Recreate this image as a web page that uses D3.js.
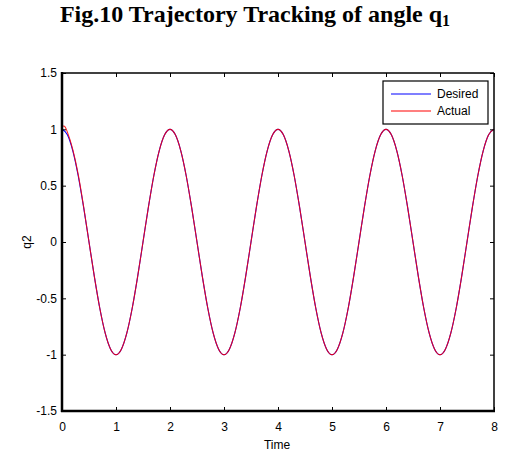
<!DOCTYPE html>
<html>
<head>
<meta charset="utf-8">
<script src="https://cdn.jsdelivr.net/npm/d3@7"></script>
<style>
  body { margin: 0; background: #fff; }
  text { font-family: Arial, "Liberation Sans", sans-serif; }
</style>
</head>
<body>
<svg id="chart" width="508" height="452"></svg>
<script>
// q2 every 0.1 s from 0 to 8
const desiredQ = [
  1, 0.951, 0.809, 0.588, 0.309, 0, -0.309, -0.588, -0.809, -0.951,
  -1, -0.951, -0.809, -0.588, -0.309, 0, 0.309, 0.588, 0.809, 0.951,
  1, 0.951, 0.809, 0.588, 0.309, 0, -0.309, -0.588, -0.809, -0.951,
  -1, -0.951, -0.809, -0.588, -0.309, 0, 0.309, 0.588, 0.809, 0.951,
  1, 0.951, 0.809, 0.588, 0.309, 0, -0.309, -0.588, -0.809, -0.951,
  -1, -0.951, -0.809, -0.588, -0.309, 0, 0.309, 0.588, 0.809, 0.951,
  1, 0.951, 0.809, 0.588, 0.309, 0, -0.309, -0.588, -0.809, -0.951,
  -1, -0.951, -0.809, -0.588, -0.309, 0, 0.309, 0.588, 0.809, 0.951,
  1
]
const desiredTime = desiredQ.map((d, i) => i / 10)

// actual response differs only at the very start
const actualHeadTime = [0, 0.03, 0.06, 0.1, 0.2, 0.3, 0.4]
const actualHeadQ = [1.02, 1.03, 1.02, 0.975, 0.82, 0.6, 0.315]

const xTicks = [0, 1, 2, 3, 4, 5, 6, 7, 8]
const yTicks = [-1.5, -1, -0.5, 0, 0.5, 1, 1.5]
const legendNames = ['Desired', 'Actual']
const colors = ['#0000ff', '#ff0000']

const margin = { left: 62, right: 14, top: 73, bottom: 41 }
const width = 508, height = 452
const svg = d3.select('#chart')

const x = d3.scaleLinear().domain([0, 8]).range([margin.left, width - margin.right])
const y = d3.scaleLinear().domain([-1.5, 1.5]).range([height - margin.bottom, margin.top])

const desired = desiredTime.map((t, i) => [t, desiredQ[i]])
const actual = actualHeadTime.map((t, i) => [t, actualHeadQ[i]])
  .concat(desired.filter(d => d[0] >= 0.5))

// title
const title = svg.append('text')
  .attr('x', 255).attr('y', 22)
  .attr('text-anchor', 'middle')
  .style('font-family', '"Liberation Serif", "Times New Roman", serif')
  .style('font-weight', 'bold')
  .style('font-size', '24px')
title.append('tspan').text('Fig.10 Trajectory Tracking of angle q')
title.append('tspan').attr('dy', 4).style('font-size', '16px').text('1')

// curves
const line = d3.line().x(d => x(d[0])).y(d => y(d[1])).curve(d3.curveMonotoneX)
svg.append('path').datum(desired)
  .attr('fill', 'none').attr('stroke', colors[0]).attr('stroke-width', 1.1)
  .attr('d', line)
svg.append('path').datum(actual)
  .attr('fill', 'none').attr('stroke', colors[1]).attr('stroke-width', 1.1)
  .attr('opacity', 0.85)
  .attr('d', line)

// axes: ticks point inward, on all four sides
const x0 = margin.left, x1 = width - margin.right
const y0 = height - margin.bottom, y1 = margin.top
const fmt = d => String(d)

svg.append('g').attr('transform', `translate(0,${y0})`)
  .call(d3.axisBottom(x).tickValues(xTicks).tickSizeInner(-4).tickSizeOuter(0).tickPadding(11).tickFormat(fmt))
svg.append('g').attr('transform', `translate(0,${y1})`)
  .call(d3.axisTop(x).tickValues(xTicks).tickSizeInner(-4).tickSizeOuter(0).tickFormat(''))
svg.append('g').attr('transform', `translate(${x0},0)`)
  .call(d3.axisLeft(y).tickValues(yTicks).tickSizeInner(-4).tickSizeOuter(0).tickPadding(5).tickFormat(fmt))
svg.append('g').attr('transform', `translate(${x1},0)`)
  .call(d3.axisRight(y).tickValues(yTicks).tickSizeInner(-4).tickSizeOuter(0).tickFormat(''))

svg.selectAll('.domain').remove()
svg.selectAll('.tick line').attr('stroke', '#000')
svg.selectAll('.tick text').style('font-size', '12px').attr('fill', '#000')
  .style('font-family', 'Arial, "Liberation Sans", sans-serif')

// box
svg.append('line').attr('x1', x0).attr('x2', x1).attr('y1', y1).attr('y2', y1)
  .attr('stroke', '#000').attr('stroke-width', 1.5)
svg.append('line').attr('x1', x1).attr('x2', x1).attr('y1', y1).attr('y2', y0)
  .attr('stroke', '#000').attr('stroke-width', 1.5)
svg.append('line').attr('x1', x0).attr('x2', x0).attr('y1', y1 - 1).attr('y2', y0 + 1)
  .attr('stroke', '#000').attr('stroke-width', 2.5)
svg.append('line').attr('x1', x0 - 1).attr('x2', x1 + 1).attr('y1', y0).attr('y2', y0)
  .attr('stroke', '#000').attr('stroke-width', 2.5)

// axis labels
svg.append('text').attr('x', 277).attr('y', 449)
  .attr('text-anchor', 'middle').style('font-size', '12px').text('Time')
svg.append('text')
  .attr('transform', `translate(31,${y(0)}) rotate(-90)`)
  .attr('text-anchor', 'middle').style('font-size', '12px').text('q2')

// legend
const lg = svg.append('g').attr('transform', 'translate(383,81)')
lg.append('rect').attr('width', 105).attr('height', 43)
  .attr('fill', '#fff').attr('stroke', '#000').attr('stroke-width', 1.2)
legendNames.forEach((name, i) => {
  lg.append('line').attr('x1', 8).attr('x2', 48)
    .attr('y1', 13 + i * 17).attr('y2', 13 + i * 17)
    .attr('stroke', colors[i]).attr('stroke-width', 1.2)
  lg.append('text').attr('x', 54).attr('y', 17 + i * 17)
    .style('font-size', '12px').text(name)
})
</script>
</body>
</html>
